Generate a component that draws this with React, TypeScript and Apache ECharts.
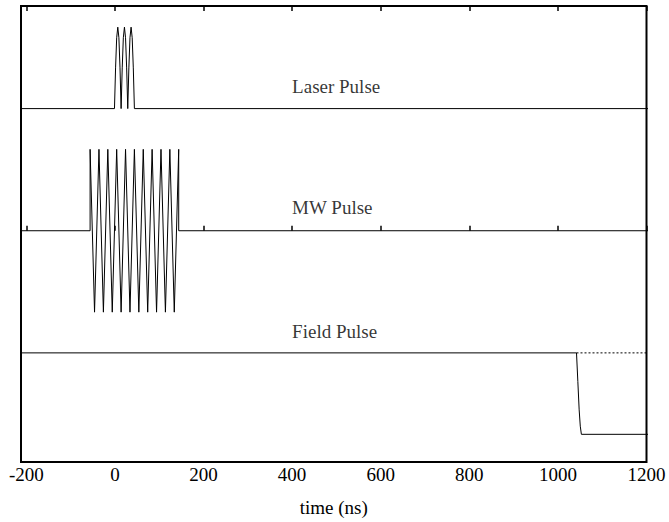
import React, { useEffect, useRef } from "react";
import * as echarts from "echarts";

// Time axis (ns)
const xTicks = [-200, 0, 200, 400, 600, 800, 1000, 1200];

// Laser pulse (three humps on a baseline of 1.5)
const laserX = [-220, -1, 1.5, 4, 6.5, 9, 11.5, 14, 16.5, 19, 21.5, 24, 26.5, 29, 31.5, 34, 36.5, 39, 41.5, 44, 1220];
const laserY = [1.5, 1.5, 2.0, 2.37, 2.5, 2.37, 2.0, 1.5, 2.0, 2.37, 2.5, 2.37, 2.0, 1.5, 2.0, 2.37, 2.5, 2.37, 2.0, 1.5, 1.5];

// MW pulse (10 cycles around 0)
const mwX = [-220, -56, -56, -46, -36, -26, -16, -6, 4, 14, 24, 34, 44, 54, 64, 74, 84, 94, 104, 114, 124, 134, 144, 144, 1220];
const mwY = [0, 0, 1, -1, 1, -1, 1, -1, 1, -1, 1, -1, 1, -1, 1, -1, 1, -1, 1, -1, 1, -1, 1, 0, 0];

// Field pulse (drop at ~1042 ns)
const fieldX = [-220, 1042, 1045, 1048, 1050.5, 1053, 1220];
const fieldY = [-1.5, -1.5, -1.85, -2.2, -2.4, -2.5, -2.5];

// Dotted continuation of the field level
const dottedX = [1042, 1220];
const dottedY = [-1.5, -1.5];

// Trace labels
const labelNames = ["Laser Pulse", "MW Pulse", "Field Pulse"];
const labelX = [400, 400, 400];
const labelY = [1.77, 0.28, -1.24];

const FONT = "Liberation Serif";
const FS = 19;

function zip(xs: number[], ys: number[]) {
  return xs.map((x, i) => [x, ys[i]]);
}

export default function App() {
  const ref = useRef<HTMLDivElement>(null);
  useEffect(() => {
    if (!ref.current) return;
    const chart = echarts.init(ref.current, undefined, { renderer: "svg" });
    const lineBase = {
      type: "line" as const,
      showSymbol: false,
      symbol: "none",
      silent: true,
      xAxisIndex: 0,
      yAxisIndex: 0,
      lineStyle: { color: "#000", width: 1 },
    };
    chart.setOption({
      animation: false,
      backgroundColor: "#fff",
      textStyle: { fontFamily: FONT },
      grid: {
        show: true,
        left: 21,
        right: 22.5,
        top: 6,
        bottom: 54,
        borderColor: "#000",
        borderWidth: 2,
      },
      xAxis: [
        {
          type: "value",
          position: "bottom",
          min: -212,
          max: 1200,
          axisLine: { show: false },
          splitLine: { show: false },
          axisTick: {
            show: true,
            inside: true,
            length: 5,
            lineStyle: { color: "#000", width: 1.5 },
            customValues: xTicks,
          },
          axisLabel: {
            customValues: xTicks,
            formatter: (v: number) => String(v),
            fontFamily: FONT,
            fontSize: FS,
            color: "#000",
            margin: 3,
          },
          name: "time (ns)",
          nameLocation: "middle",
          nameGap: 36,
          nameTextStyle: { fontFamily: FONT, fontSize: FS, color: "#000" },
        },
        {
          type: "value",
          position: "top",
          min: -212,
          max: 1200,
          axisLine: { show: false },
          splitLine: { show: false },
          axisTick: {
            show: true,
            inside: true,
            length: 5,
            lineStyle: { color: "#000", width: 1.5 },
            customValues: xTicks,
          },
          axisLabel: { show: false },
        },
      ],
      yAxis: {
        type: "value",
        min: -2.84,
        max: 2.76,
        axisLine: { show: false },
        axisTick: { show: false },
        axisLabel: { show: false },
        splitLine: { show: false },
      },
      series: [
        { ...lineBase, name: "Laser Pulse", data: zip(laserX, laserY) },
        { ...lineBase, name: "MW Pulse", data: zip(mwX, mwY) },
        { ...lineBase, name: "Field Pulse", data: zip(fieldX, fieldY) },
        {
          ...lineBase,
          name: "Field Ref",
          data: zip(dottedX, dottedY),
          lineStyle: { color: "#000", width: 1, type: [2, 2] },
        },
        {
          type: "scatter",
          silent: true,
          symbolSize: 0,
          data: labelNames.map((n, i) => ({ value: [labelX[i], labelY[i]], name: n })),
          label: {
            show: true,
            position: [0, 0],
            align: "left",
            verticalAlign: "middle",
            formatter: (p: any) => p.name,
            fontFamily: FONT,
            fontSize: FS,
            color: "#000",
          },
        },
      ],
    });
    return () => chart.dispose();
  }, []);
  return (
    <div
      ref={ref}
      style={{ position: "fixed", left: 0, top: 0, width: 669, height: 522 }}
    />
  );
}
